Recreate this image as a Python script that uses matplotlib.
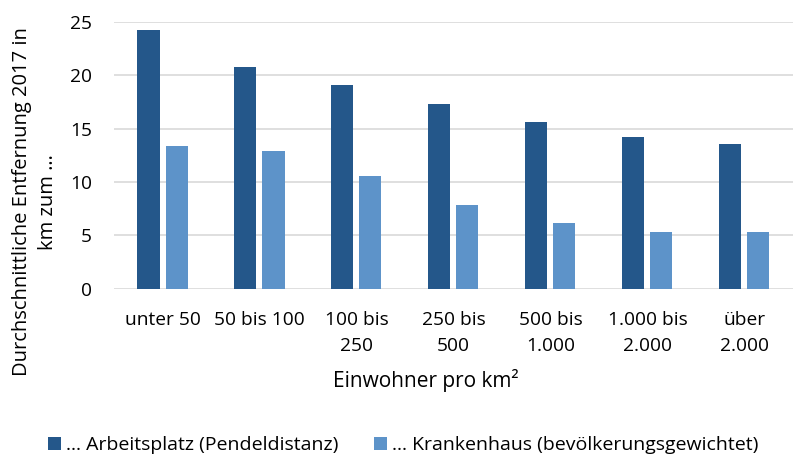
import matplotlib.pyplot as plt
import numpy as np

plt.rcParams['font.family'] = ['Open Sans', 'DejaVu Sans']

categories = ["unter 50", "50 bis 100", "100 bis\n250", "250 bis\n500",
              "500 bis\n1.000", "1.000 bis\n2.000", "über\n2.000"]
arbeitsplatz = [24.25, 20.8, 19.05, 17.35, 15.6, 14.2, 13.55]
krankenhaus = [13.4, 12.9, 10.55, 7.85, 6.2, 5.3, 5.35]

dark = "#24578A"
light = "#5D93C9"

fig = plt.figure(figsize=(7.94, 4.57), dpi=100)
ax = fig.add_axes([0.1436, 0.3683, 0.855, 0.5836])

x = np.arange(len(categories))
w = 0.227
gap = 0.062
ax.bar(x - (w + gap) / 2, arbeitsplatz, w, color=dark, zorder=3,
       label="… Arbeitsplatz (Pendeldistanz)")
ax.bar(x + (w + gap) / 2, krankenhaus, w, color=light, zorder=3,
       label="… Krankenhaus (bevölkerungsgewichtet)")

ax.set_xlim(-0.5, len(categories) - 0.5)
ax.set_ylim(0, 25)
ax.set_yticks([0, 5, 10, 15, 20, 25])
ax.yaxis.grid(True, color="#D9D9D9", lw=1.2, zorder=0)
for s in ax.spines.values():
    s.set_visible(False)
ax.tick_params(length=0, labelsize=13.8, colors="black")
ax.tick_params(axis="y", pad=16)
ax.tick_params(axis="x", pad=16)
ax.set_xticks(x)
ax.set_xticklabels(categories, linespacing=1.6)

# axis titles placed by hand, they are not centred on the plot area
fig.text(426 / 794, 1 - 381 / 457, "Einwohner pro km²", fontsize=15,
         ha="center", va="center")
fig.text(35 / 794, 1 - 202 / 457, "Durchschnittliche Entfernung 2017 in\nkm zum …",
         fontsize=14.5, rotation=90, ha="center", va="center",
         multialignment="center", linespacing=1.45)

fig.legend(loc="center", bbox_to_anchor=(403 / 794, 1 - 445 / 457), ncol=2,
           frameon=False, fontsize=14, handlelength=0.67, handleheight=0.67,
           handletextpad=0.26, columnspacing=1.85, borderpad=0)

fig.savefig("out.png", dpi=100)
